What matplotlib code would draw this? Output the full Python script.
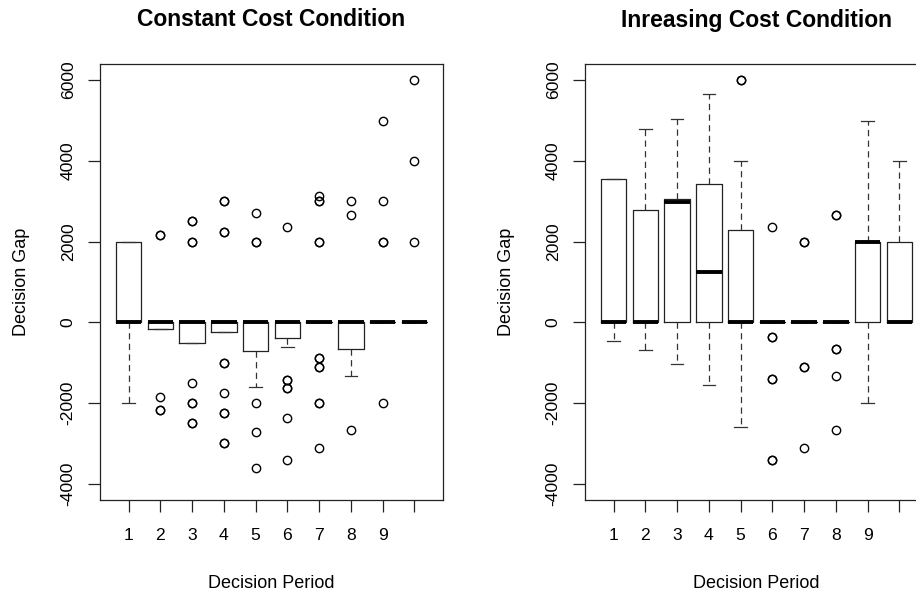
import matplotlib
matplotlib.use("Agg")
from matplotlib import pyplot as plt

plt.rcParams['font.family'] = ['Liberation Sans', 'DejaVu Sans']

periods = [1, 2, 3, 4, 5, 6, 7, 8, 9, 10]
period_labels = ['1', '2', '3', '4', '5', '6', '7', '8', '9', '']
y_ticks = [-4000, -2000, 0, 2000, 4000, 6000]

# Constant cost condition
const_q1 = [0, -170, -500, -240, -720, -375, 0, -670, 0, 0]
const_med = [0, 0, 0, 0, 0, 0, 0, 0, 0, 0]
const_q3 = [2000, 0, 0, 0, 0, 0, 0, 0, 0, 0]
const_lo = [-2000, -170, -500, -240, -1610, -600, 0, -1340, 0, 0]
const_hi = [2000, 0, 0, 0, 0, 0, 0, 0, 0, 0]
const_out = [
    [],
    [2170, 2170, -1840, -2170, -2170],
    [2500, 2500, 2000, 2000, -1500, -2000, -2000, -2500, -2500],
    [3000, 3000, 2240, 2240, -1010, -1010, -1760, -2250, -2250, -3000, -3000],
    [2710, 2000, 2000, -2000, -2720, -3610],
    [2370, -1420, -1420, -1620, -1620, -2380, -3420],
    [3120, 3000, 3000, 2000, 2000, -880, -880, -1110, -1110, -2000, -2000, -3110],
    [3000, 2660, -2670],
    [5000, 3000, 2000, 2000, -2000],
    [6000, 4000, 2000],
]

# Increasing cost condition
incr_q1 = [0, 0, 0, 0, 0, 0, 0, 0, 0, 0]
incr_med = [0, 0, 2990, 1240, 0, 0, 0, 0, 2000, 0]
incr_q3 = [3540, 2790, 3055, 3420, 2280, 0, 0, 0, 2000, 2000]
incr_lo = [-460, -680, -1030, -1540, -2600, 0, 0, 0, -2000, 0]
incr_hi = [3540, 4790, 5040, 5660, 4000, 0, 0, 0, 5000, 4000]
incr_out = [
    [],
    [],
    [],
    [],
    [6000, 6000],
    [2370, -370, -370, -1410, -1410, -3420, -3420],
    [2000, 2000, -1110, -1110, -3110],
    [2660, 2660, -670, -670, -1340, -2660],
    [],
    [],
]


def make_stats(q1, med, q3, lo, hi, out):
    stats = []
    for i in range(len(q1)):
        stats.append({'q1': q1[i], 'med': med[i], 'q3': q3[i],
                      'whislo': lo[i], 'whishi': hi[i], 'fliers': out[i]})
    return stats


def draw_panel(ax, stats, title):
    ax.bxp(stats, positions=periods, widths=0.8, capwidths=0.4,
           manage_ticks=False,
           boxprops=dict(color='#222222', linewidth=0.9),
           medianprops=dict(color='black', linewidth=2.8, solid_capstyle='butt'),
           whiskerprops=dict(color='#333333', linewidth=0.9, linestyle=(0, (5, 3.5))),
           capprops=dict(color='#333333', linewidth=0.9),
           flierprops=dict(marker='o', markerfacecolor='none', markeredgecolor='black',
                           markersize=6, markeredgewidth=1.0))
    ax.set_xlim(0.1, 10.9)
    ax.set_ylim(-4400, 6400)
    ax.set_xticks(periods)
    ax.set_xticklabels(period_labels)
    ax.set_yticks(y_ticks)
    ax.set_yticklabels([str(v) for v in y_ticks], rotation=90, va='center')
    ax.tick_params(axis='both', direction='out', length=8.5, width=0.9,
                   labelsize=12.6, color='#222222')
    ax.tick_params(axis='x', pad=12)
    ax.tick_params(axis='y', pad=9)
    for s in ax.spines.values():
        s.set_linewidth(0.9)
        s.set_color('#222222')
    ax.set_xlabel('Decision Period', fontsize=13, labelpad=23)
    ax.set_ylabel('Decision Gap', fontsize=13, labelpad=22)
    ax.set_title(title, fontsize=16.5, fontweight='bold', pad=27)


fig = plt.figure(figsize=(9.16, 5.93), dpi=100)
ax1 = fig.add_axes([100 / 916, 93 / 593, 343 / 916, 436 / 593])
ax2 = fig.add_axes([585 / 916, 93 / 593, 343 / 916, 436 / 593])

draw_panel(ax1, make_stats(const_q1, const_med, const_q3, const_lo, const_hi, const_out),
           'Constant Cost Condition')
draw_panel(ax2, make_stats(incr_q1, incr_med, incr_q3, incr_lo, incr_hi, incr_out),
           'Inreasing Cost Condition')

fig.savefig('out.png', dpi=100)
